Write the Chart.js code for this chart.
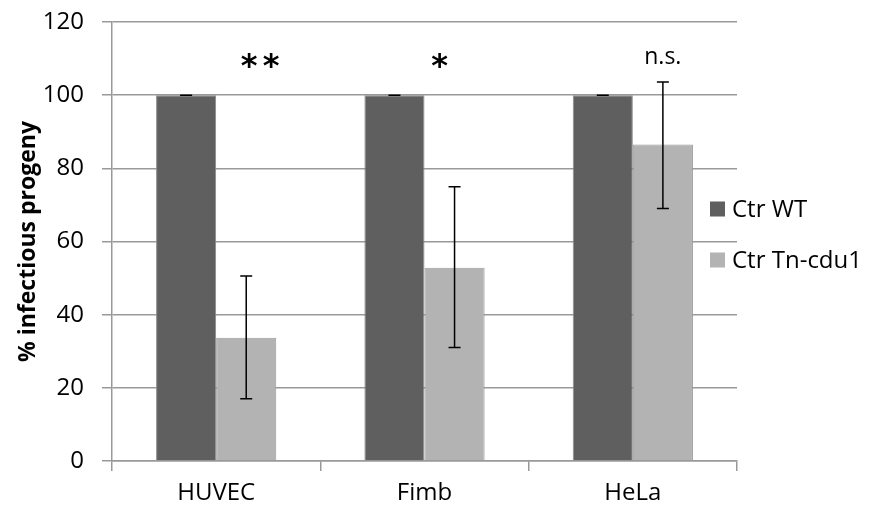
<!DOCTYPE html>
<html>
<head>
<meta charset="utf-8">
<script src="https://cdn.jsdelivr.net/npm/chart.js@4"></script>
<style>
  html, body { margin: 0; padding: 0; background: #fff; }
  #wrap { width: 873px; height: 512px; position: relative; }
</style>
</head>
<body>
<div id="wrap"><canvas id="grafico"></canvas></div>
<script>
// ===============================
// DATA
// ===============================
const categorias = ["HUVEC", "Fimb", "HeLa"];
const wtValores = [100, 100, 100];
const wtError = [0, 0, 0];
const tnValores = [33.7, 52.8, 86.5];
const tnErrorBajo = [17, 31, 69];
const tnErrorAlto = [50.6, 75, 103.6];
const significancia = ["**", "*", "n.s."];

const FUENTE = "'Open Sans', sans-serif";

// ===============================
// PLUGIN: barras de error
// ===============================
const barrasError = {
  id: "barrasError",
  afterDatasetsDraw(chart) {
    const ctx = chart.ctx;
    const y = chart.scales.y;
    ctx.save();
    ctx.strokeStyle = "#000";
    ctx.lineWidth = 1.5;

    const dibujar = (x, bajo, alto) => {
      const y1 = y.getPixelForValue(bajo);
      const y2 = y.getPixelForValue(alto);
      ctx.beginPath();
      ctx.moveTo(x, y1); ctx.lineTo(x, y2);
      ctx.moveTo(x - 6, y1); ctx.lineTo(x + 6, y1);
      ctx.moveTo(x - 6, y2); ctx.lineTo(x + 6, y2);
      ctx.stroke();
    };

    chart.getDatasetMeta(0).data.forEach((bar, i) => {
      dibujar(bar.x, wtValores[i] - wtError[i], wtValores[i] + wtError[i]);
    });
    chart.getDatasetMeta(1).data.forEach((bar, i) => {
      dibujar(bar.x, tnErrorBajo[i], tnErrorAlto[i]);
    });
    ctx.restore();
  }
};

// ===============================
// PLUGIN: asteriscos / n.s.
// ===============================
const marcas = {
  id: "marcas",
  afterDatasetsDraw(chart) {
    const ctx = chart.ctx;
    const xs = chart.scales.x;
    const y = chart.scales.y.getPixelForValue(110);
    const dx = [44, 15, 30];
    ctx.save();
    ctx.fillStyle = "#000";
    ctx.textAlign = "center";
    ctx.textBaseline = "middle";
    significancia.forEach((txt, i) => {
      const x = xs.getPixelForValue(i) + dx[i];
      if (txt === "n.s.") {
        ctx.font = "23px " + FUENTE;
        ctx.fillText(txt, x, y - 1);
      } else {
        ctx.font = "bold 32px 'DejaVu Sans', sans-serif";
        const n = txt.length;
        for (let k = 0; k < n; k++) {
          ctx.fillText("*", x + (k - (n - 1) / 2) * 22, y + 9);
        }
      }
    });
    ctx.restore();
  }
};

// ===============================
// PLUGIN: leyenda a la derecha
// ===============================
const leyenda = {
  id: "leyenda",
  afterDraw(chart) {
    const ctx = chart.ctx;
    const filas = [209, 260];
    ctx.save();
    ctx.font = "24px " + FUENTE;
    ctx.textBaseline = "middle";
    ctx.textAlign = "left";
    chart.data.datasets.forEach((ds, i) => {
      ctx.fillStyle = ds.backgroundColor;
      ctx.fillRect(710, filas[i] - 7.5, 15, 15);
      ctx.fillStyle = "#000";
      ctx.fillText(ds.label, 732, filas[i] + 1);
    });
    ctx.restore();
  }
};

// ===============================
// GRÁFICO
// ===============================
new Chart(document.getElementById("grafico"), {
  type: "bar",
  data: {
    labels: categorias,
    datasets: [
      {
        label: "Ctr WT",
        data: wtValores,
        backgroundColor: "#5f5f5f",
        borderColor: "#8a8a8a",
        borderWidth: 1
      },
      {
        label: "Ctr Tn-cdu1",
        data: tnValores,
        backgroundColor: "#b3b3b3",
        borderColor: "#9a9a9a",
        borderWidth: 1
      }
    ]
  },
  options: {
    responsive: true,
    maintainAspectRatio: false,
    animation: false,
    layout: { padding: { left: 0, right: 136, top: 22, bottom: 0 } },
    datasets: { bar: { categoryPercentage: 0.577, barPercentage: 1 } },
    plugins: {
      legend: { display: false },
      tooltip: { enabled: false }
    },
    scales: {
      x: {
        afterFit(scale) { scale.height = 51; },
        grid: {
          offset: true,
          drawOnChartArea: false,
          drawTicks: true,
          tickLength: 10,
          color: "#999",
          lineWidth: 1.5
        },
        border: { color: "#999", width: 1.5 },
        ticks: { color: "#000", font: { family: FUENTE, size: 24 }, padding: 8 }
      },
      y: {
        min: 0,
        max: 120,
        afterFit(scale) {
          scale.width = 112;
          scale.paddingTop = 0;
          scale.paddingBottom = 0;
        },
        grid: { color: "#999", lineWidth: 1.5, tickLength: 10 },
        border: { color: "#999", width: 1.5 },
        ticks: { stepSize: 20, color: "#000", font: { family: FUENTE, size: 24 }, padding: 18 },
        title: {
          display: true,
          text: "% infectious progeny",
          color: "#000",
          font: { family: FUENTE, size: 23, weight: "bold" },
          padding: { top: 15, bottom: 0 }
        }
      }
    }
  },
  plugins: [barrasError, marcas, leyenda]
});
</script>
</body>
</html>
